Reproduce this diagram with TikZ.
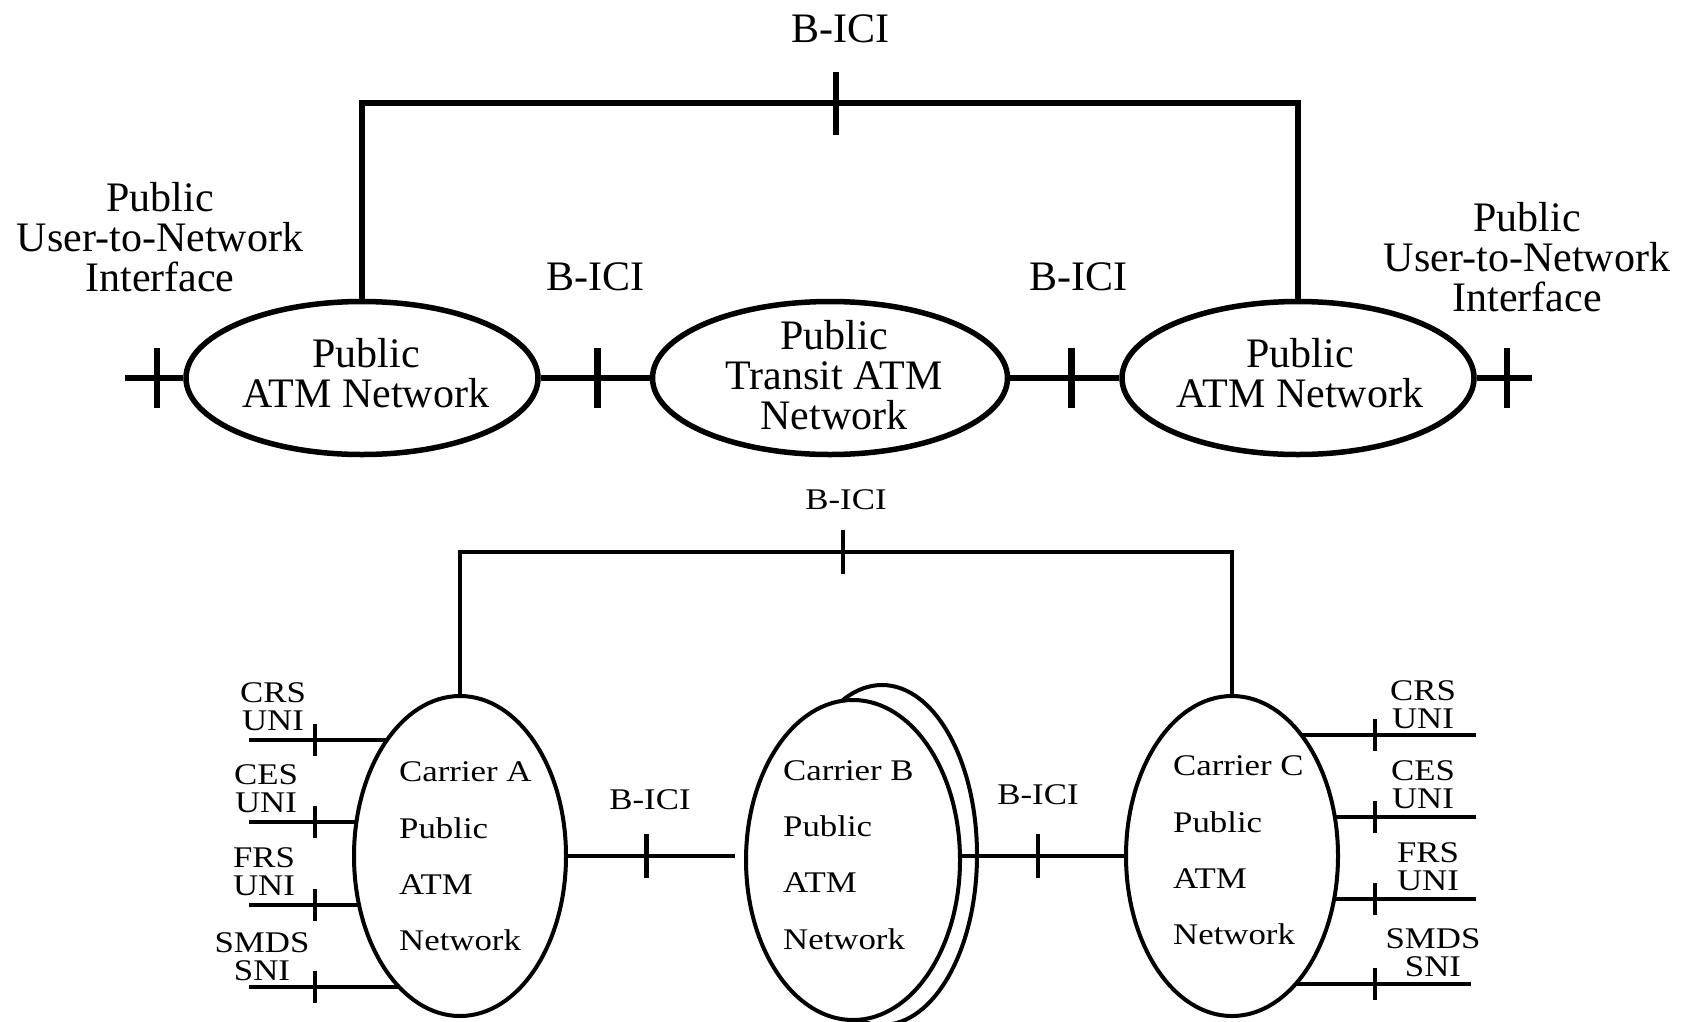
\documentclass[tikz,border=0pt]{standalone}
\usepackage{fontspec}
\setmainfont{Liberation Serif}
\newfontfamily\topfont{Liberation Serif}
\newfontfamily\lowfont[FakeStretch=1.16]{Liberation Serif}
\usetikzlibrary{shapes.geometric,backgrounds}

\tikzset{
  topnet/.style={ellipse, draw, line width=5.5pt, fill=white, inner sep=0pt,
    minimum width=352pt, minimum height=153pt},
  lownet/.style={ellipse, draw, line width=4pt, fill=white, inner sep=0pt,
    minimum width=212pt, minimum height=320pt},
  topline/.style={line width=6pt},
  lowline/.style={line width=4pt},
  toptick/.style={line width=6.5pt},
  lowtick/.style={line width=4.5pt},
  toptext/.style={font=\topfont\fontsize{42}{40}\selectfont, align=center, inner sep=0pt},
  lowtext/.style={font=\lowfont\fontsize{30}{28}\selectfont, align=center, inner sep=0pt},
  nettext/.style={font=\lowfont\fontsize{30}{56.3}\selectfont, align=left, anchor=west, inner sep=0pt},
}

\begin{document}
\begin{tikzpicture}[x=1pt, y=-1pt]
\useasboundingbox (0,0) rectangle (1688,1021);
\begin{scope}[on background layer]
  \fill[white] (0,0) rectangle (1688,1021);
\end{scope}

% ---------- upper network: public UNI / B-ICI ----------
\node[topnet] (pl) at (362,378) {};
\node[topnet, minimum width=355pt] (tr) at (830,378) {};
\node[topnet] (pr) at (1298,378) {};
\coordinate (uniL) at (125,378);
\coordinate (uniR) at (1532,378);
\coordinate (topbar) at (836,103);

\draw[topline] (pl.north) |- (topbar) -| (pr.north);
\draw[topline] (uniL) -- coordinate[pos=0.55] (k1) (pl.west);
\draw[topline] (pl.east) -- coordinate[pos=0.52] (k2) (tr.west);
\draw[topline] (tr.east) -- coordinate[pos=0.56] (k3) (pr.west);
\draw[topline] (pr.east) -- coordinate[pos=0.55] (k4) (uniR);

\foreach \k in {k1,k2,k3,k4}
  \draw[toptick] ([yshift=30pt]\k) -- ([yshift=-30pt]\k);
\draw[toptick] ([yshift=31.5pt]topbar) -- ([yshift=-31.5pt]topbar);

\node[toptext] (bici0) at (840,29) {B-ICI};
\node[toptext] (uniLtxt) at (160,237) {Public\\User-to-Network\\Interface};
\node[toptext] (uniRtxt) at (1527,257) {Public\\User-to-Network\\Interface};
\node[toptext] (bici1) at (595,277) {B-ICI};
\node[toptext] (bici2) at (1078,277) {B-ICI};
\node[toptext] (pltxt) at (366,373) {Public\\ATM Network};
\node[toptext] (trtxt) at (834,375) {Public\\Transit ATM\\Network};
\node[toptext] (prtxt) at (1300,373) {Public\\ATM Network};

% ---------- lower network: carriers A, B, C ----------
\node[lownet, minimum width=190pt, minimum height=340pt] (cbback) at (882,855) {};
\node[lownet] (ca) at (460,856) {};
\node[lownet, minimum width=214pt] (cb) at (853,860) {};
\node[lownet] (cc) at (1232,856) {};

\coordinate (lowbar) at (843,552);
\coordinate (abend) at (735,856);
\draw[lowline] (ca.north) |- (lowbar) -| (cc.north);
\draw[lowline] (ca.east) -- coordinate[pos=0.47] (k6) (abend);
\draw[lowline] (cb.east |- cc.west) -- coordinate[pos=0.47] (k7) (cc.west);
\draw[lowtick] ([yshift=22pt]lowbar) -- ([yshift=-22pt]lowbar);
\foreach \k in {k6,k7}
  \draw[lowtick] ([yshift=22pt]\k) -- ([yshift=-22pt]\k);

% service interfaces on the carrier networks
\foreach \n/\t/\y in {crsL/tL1/740, cesL/tL2/822, frsL/tL3/905, smdsL/tL4/987} {
  \coordinate (\n) at (249,\y);
  \coordinate (\t) at (315,\y);
}
\foreach \n/\t/\x/\y in {crsR/tR1/1476/735, cesR/tR2/1476/817, frsR/tR3/1476/899, smdsR/tR4/1471/984} {
  \coordinate (\n) at (\x,\y);
  \coordinate (\t) at (1375,\y);
}
\begin{scope}[on background layer]
  \foreach \n in {crsL,cesL,frsL,smdsL}
    \draw[lowline] (\n) -- (\n -| ca.center);
  \foreach \n in {crsR,cesR,frsR,smdsR}
    \draw[lowline] (\n) -- (\n -| cc.center);
\end{scope}
\foreach \t in {tL1,tL2,tL3,tL4,tR1,tR2,tR3,tR4}
  \draw[lowtick] ([yshift=16pt]\t) -- ([yshift=-16pt]\t);

\node[lowtext] (bici3) at (846,500) {B-ICI};
\node[lowtext] (bici4) at (650,800) {B-ICI};
\node[lowtext] (bici5) at (1038,795) {B-ICI};

\node[lowtext] (crsLtxt) at (273,707) {CRS\\UNI};
\node[lowtext] (cesLtxt) at (266,789) {CES\\UNI};
\node[lowtext] (frsLtxt) at (264,872) {FRS\\UNI};
\node[lowtext] (smdsLtxt) at (262,957) {SMDS\\SNI};
\node[lowtext] (crsRtxt) at (1423,705) {CRS\\UNI};
\node[lowtext] (cesRtxt) at (1423,785) {CES\\UNI};
\node[lowtext] (frsRtxt) at (1428,867) {FRS\\UNI};
\node[lowtext] (smdsRtxt) at (1433,953) {SMDS\\SNI};

\node[nettext] (catxt) at (399,856.5) {Carrier A\\Public\\ATM\\Network};
\node[nettext] (cbtxt) at (783,855) {Carrier B\\Public\\ATM\\Network};
\node[nettext] (cctxt) at (1173,850.5) {Carrier C\\Public\\ATM\\Network};
\end{tikzpicture}
\end{document}
